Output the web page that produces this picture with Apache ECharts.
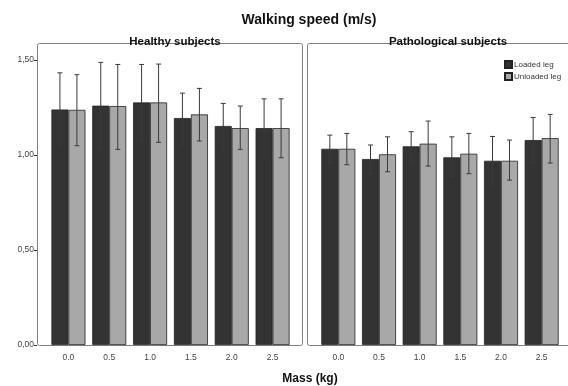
<!DOCTYPE html>
<html>
<head>
<meta charset="utf-8">
<script src="https://cdn.jsdelivr.net/npm/echarts@6/dist/echarts.min.js"></script>
<style>
    html, body { margin: 0; padding: 0; background: #fff; }
    #chart { width: 568px; height: 386px; }
</style>
</head>
<body>
<div id="chart"></div>
<script>
var categories = ['0.0', '0.5', '1.0', '1.5', '2.0', '2.5'];
var yTicks = [0, 0.5, 1, 1.5];
var legendName = ['Loaded leg', 'Unloaded leg'];

// healthy subjects
var healthyLoaded = [1.24, 1.26, 1.277, 1.195, 1.153, 1.142];
var healthyUnloaded = [1.238, 1.258, 1.277, 1.214, 1.142, 1.142];
var healthyLoadedLow = [1.049, 1.04, 1.077, 1.056, 1.033, 0.984];
var healthyLoadedHigh = [1.433, 1.488, 1.477, 1.326, 1.272, 1.296];
var healthyUnloadedLow = [1.049, 1.03, 1.067, 1.074, 1.03, 0.986];
var healthyUnloadedHigh = [1.423, 1.477, 1.479, 1.351, 1.258, 1.296];

// pathological subjects
var pathLoaded = [1.033, 0.979, 1.046, 0.988, 0.97, 1.079];
var pathUnloaded = [1.033, 1.004, 1.06, 1.007, 0.97, 1.089];
var pathLoadedLow = [0.96, 0.904, 0.965, 0.886, 0.842, 0.958];
var pathLoadedHigh = [1.105, 1.053, 1.123, 1.096, 1.098, 1.198];
var pathUnloadedLow = [0.949, 0.912, 0.942, 0.902, 0.868, 0.958];
var pathUnloadedHigh = [1.114, 1.096, 1.179, 1.114, 1.079, 1.214];

var FONT = 'Liberation Sans';
var BAR_W = 17;

function errData(low, high) {
    var d = [];
    for (var i = 0, len = low.length; i < len; i++) {
        d.push([i, low[i], high[i]]);
    }
    return d;
}

function errSeries(idx, low, high, shift) {
    return {
        type: 'custom',
        xAxisIndex: idx,
        yAxisIndex: idx,
        z: 5,
        silent: true,
        data: errData(low, high),
        renderItem: function(params, api) {
            var p1 = api.coord([api.value(0), api.value(1)]);
            var p2 = api.coord([api.value(0), api.value(2)]);
            var x = p1[0] + shift;
            var style = { stroke: '#3a3a3a', lineWidth: 1 };
            return {
                type: 'group',
                children: [
                    { type: 'line', shape: { x1: x, y1: p1[1], x2: x, y2: p2[1] }, style: style },
                    { type: 'line', shape: { x1: x - 2.5, y1: p1[1], x2: x + 2.5, y2: p1[1] }, style: style },
                    { type: 'line', shape: { x1: x - 2.5, y1: p2[1], x2: x + 2.5, y2: p2[1] }, style: style }
                ]
            };
        }
    };
}

function barSeries(idx, name, data, color) {
    return {
        name: name,
        type: 'bar',
        xAxisIndex: idx,
        yAxisIndex: idx,
        barWidth: BAR_W,
        barGap: 0,
        data: data,
        itemStyle: { color: color, borderColor: '#222', borderWidth: 0.8 }
    };
}

function xAxisOf(idx) {
    return {
        type: 'category',
        gridIndex: idx,
        data: categories,
        axisLine: { show: false },
        axisTick: { alignWithLabel: true, length: 4, lineStyle: { color: '#333' } },
        axisLabel: { fontFamily: FONT, fontSize: 8.5, color: '#444', margin: 8 }
    };
}

function yAxisOf(idx, showLabel) {
    return {
        type: 'value',
        gridIndex: idx,
        min: 0,
        max: 1.59,
        interval: 0.5,
        offset: 11,
        splitLine: { show: false },
        axisLine: { show: false },
        axisTick: { show: showLabel, length: 3, customValues: yTicks, lineStyle: { color: '#333' } },
        axisLabel: {
            show: showLabel,
            fontFamily: FONT,
            fontSize: 8.5,
            color: '#444',
            margin: 3,
            customValues: yTicks,
            formatter: function(v) { return v.toFixed(2).replace('.', ','); }
        }
    };
}

// panel frame, the right one runs past the window edge
function frame(x, w) {
    return {
        type: 'rect',
        z: -1,
        silent: true,
        shape: { x: x + 0.5, y: 43.5, width: w, height: 302, r: 2 },
        style: { fill: 'none', stroke: '#808080', lineWidth: 1 }
    };
}

var option = {
    backgroundColor: '#fff',
    animation: false,
    title: [
        { text: 'Walking speed (m/s)', left: 304, top: 8, textAlign: 'center',
          textStyle: { fontFamily: FONT, fontSize: 14, fontWeight: 'bold', color: '#111' } },
        { text: 'Healthy subjects', left: 170, top: 31, textAlign: 'center',
          textStyle: { fontFamily: FONT, fontSize: 11.5, fontWeight: 'bold', color: '#111' } },
        { text: 'Pathological subjects', left: 443, top: 31, textAlign: 'center',
          textStyle: { fontFamily: FONT, fontSize: 11.5, fontWeight: 'bold', color: '#111' } },
        { text: 'Mass (kg)', left: 305, top: 368, textAlign: 'center',
          textStyle: { fontFamily: FONT, fontSize: 12, fontWeight: 'bold', color: '#111' } }
    ],
    legend: {
        data: legendName,
        orient: 'vertical',
        icon: 'rect',
        left: 499,
        top: 55,
        itemWidth: 7,
        itemHeight: 7,
        itemGap: 3,
        textStyle: { fontFamily: FONT, fontSize: 8, color: '#333', padding: [0, 0, 0, -3] }
    },
    graphic: [frame(37, 265), frame(307, 280)],
    grid: [
        { left: 48, width: 245, top: 43, height: 302 },
        { left: 318, width: 244, top: 43, height: 302 }
    ],
    xAxis: [xAxisOf(0), xAxisOf(1)],
    yAxis: [yAxisOf(0, true), yAxisOf(1, false)],
    series: [
        barSeries(0, legendName[0], healthyLoaded, '#333333'),
        barSeries(0, legendName[1], healthyUnloaded, '#a8a8a8'),
        barSeries(1, legendName[0], pathLoaded, '#333333'),
        barSeries(1, legendName[1], pathUnloaded, '#a8a8a8'),
        errSeries(0, healthyLoadedLow, healthyLoadedHigh, -BAR_W / 2),
        errSeries(0, healthyUnloadedLow, healthyUnloadedHigh, BAR_W / 2),
        errSeries(1, pathLoadedLow, pathLoadedHigh, -BAR_W / 2),
        errSeries(1, pathUnloadedLow, pathUnloadedHigh, BAR_W / 2)
    ]
};

echarts.init(document.getElementById('chart')).setOption(option);
</script>
</body>
</html>
